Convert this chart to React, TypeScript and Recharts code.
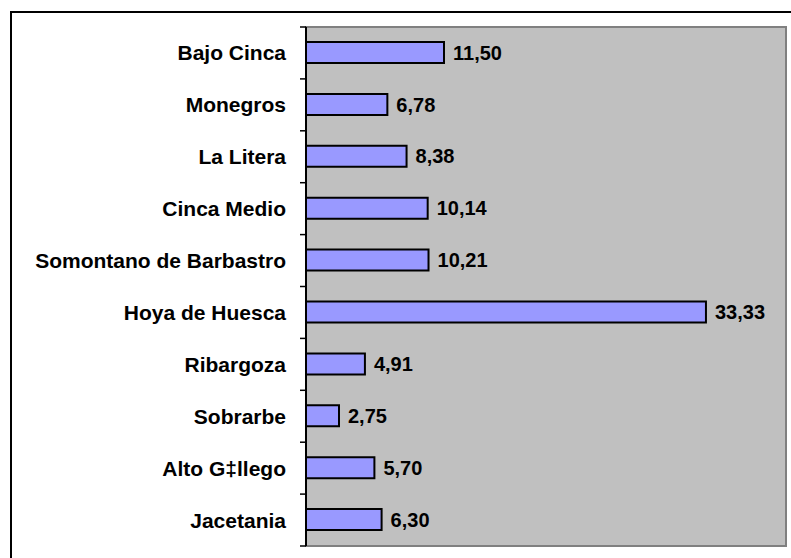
import React from "react";
import {
  BarChart,
  Bar,
  XAxis,
  YAxis,
  CartesianGrid,
  ReferenceArea,
  LabelList,
} from "recharts";

// comarcas, top to bottom as drawn
const CATEGORIES = [
  "Bajo Cinca",
  "Monegros",
  "La Litera",
  "Cinca Medio",
  "Somontano de Barbastro",
  "Hoya de Huesca",
  "Ribargoza",
  "Sobrarbe",
  "Alto G‡llego",
  "Jacetania",
];
const VALUES = [11.5, 6.78, 8.38, 10.14, 10.21, 33.33, 4.91, 2.75, 5.7, 6.3];
const X_DOMAIN = [0, 40];

const FONT = "'Liberation Sans', Arial, sans-serif";
const TICK_MARGIN = 20;
const TICK_LEN = 6;

const data = CATEGORIES.map((name, i) => ({ name, value: VALUES[i] }));

const fmt = (v: number) => v.toFixed(2).replace(".", ",");

// category label + tick marks on the band edges (Excel style)
function CategoryTick(props: any) {
  const { x, y, payload, index, visibleTicksCount } = props;
  const half = payload?.offset ?? 0;
  const axisX = x + TICK_MARGIN;
  const isLast = index === visibleTicksCount - 1;
  return (
    <g>
      <line x1={axisX - TICK_LEN} x2={axisX} y1={y - half} y2={y - half} stroke="#000" strokeWidth={1.5} />
      {isLast ? (
        <line x1={axisX - TICK_LEN} x2={axisX} y1={y + half} y2={y + half} stroke="#000" strokeWidth={1.5} />
      ) : null}
      <text
        x={x}
        y={y}
        dy="0.355em"
        textAnchor="end"
        fill="#000"
        fontSize={21}
        fontWeight={700}
        fontFamily={FONT}
      >
        {payload.value}
      </text>
    </g>
  );
}

export default function App() {
  return (
    <>
      {/* outer chart frame */}
      <div
        style={{
          position: "absolute",
          left: 10,
          top: 11,
          width: 781,
          height: 547,
          borderTop: "2px solid #000",
          borderLeft: "2px solid #000",
          boxSizing: "border-box",
        }}
      />
      <div style={{ position: "absolute", left: 0, top: 0 }}>
        <BarChart
          width={791}
          height={558}
          data={data}
          layout="vertical"
          margin={{ top: 27, right: 5, bottom: 12, left: 10 }}
          barCategoryGap={0}
        >
          <CartesianGrid fill="#C0C0C0" stroke="none" />
          <ReferenceArea
            x1={X_DOMAIN[0]}
            x2={X_DOMAIN[1]}
            fill="none"
            stroke="#808080"
            strokeWidth={2}
          />
          <XAxis type="number" domain={X_DOMAIN} hide />
          <YAxis
            type="category"
            dataKey="name"
            width={296}
            axisLine={{ stroke: "#000", strokeWidth: 2 }}
            tickLine={false}
            tickSize={0}
            tickMargin={TICK_MARGIN}
            interval={0}
            tick={<CategoryTick />}
          />
          <Bar
            dataKey="value"
            fill="#9999FF"
            stroke="#000"
            strokeWidth={2}
            barSize={21}
            isAnimationActive={false}
          >
            <LabelList
              dataKey="value"
              position="right"
              offset={9}
              formatter={(v: number) => fmt(v)}
              style={{
                fill: "#000",
                fontSize: 20,
                fontWeight: 700,
                fontFamily: FONT,
              }}
            />
          </Bar>
        </BarChart>
      </div>
    </>
  );
}
